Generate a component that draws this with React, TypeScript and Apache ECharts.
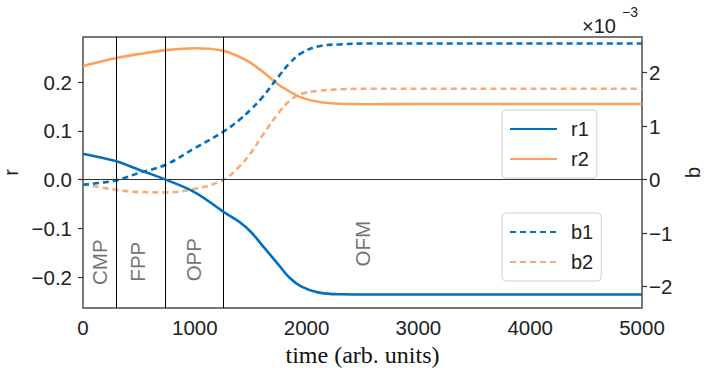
import React, { useEffect, useRef } from 'react';
import * as echarts from 'echarts';

// time samples (arb. units)
const times = [0, 150, 300, 500, 740, 1000, 1250, 1400, 1500, 1600, 1750, 1850, 1950, 2100, 2300, 2600, 3000, 4000, 5000];
// r values (left axis)
const r1 = [0.0534, 0.046, 0.0377, 0.0205, 0, -0.026, -0.065, -0.087, -0.107, -0.134, -0.175, -0.202, -0.219, -0.2315, -0.2355, -0.236, -0.236, -0.236, -0.236];
const r2 = [0.233, 0.242, 0.25, 0.258, 0.266, 0.27, 0.265, 0.252, 0.24, 0.223, 0.195, 0.181, 0.169, 0.16, 0.156, 0.155, 0.1553, 0.1553, 0.1553];
// b values (right axis), in units of 1e-3
const b1 = [-0.093, -0.06, -0.01, 0.125, 0.28, 0.59, 0.89, 1.12, 1.31, 1.53, 1.93, 2.18, 2.36, 2.49, 2.53, 2.545, 2.545, 2.545, 2.545];
const b2 = [-0.08, -0.14, -0.19, -0.23, -0.237, -0.17, -0.01, 0.25, 0.5, 0.81, 1.25, 1.48, 1.6, 1.66, 1.69, 1.7, 1.7, 1.7, 1.7];

// phase boundaries and labels
const phaseBoundaries = [300, 740, 1250];
const phaseNames = ['CMP', 'FPP', 'OPP', 'OFM'];
const phaseLabelT = [152, 484, 985, 2499];
const phaseLabelR = [-0.1695, -0.1685, -0.1644, -0.1315];

// ticks
const xTicks = [0, 1000, 2000, 3000, 4000, 5000];
const rTicks = [-0.2, -0.1, 0, 0.1, 0.2];
const bTicks = [-2, -1, 0, 1, 2];

const BLUE = '#0070C0';
const ORANGE = '#FFA05A';
const ORANGE_LIGHT = '#F9AC78';
const SANS = 'Liberation Sans';

const zip = (xs: number[], ys: number[]) => xs.map((x, i) => [x, ys[i]]);
const minus = (s: string) => s.replace('-', '\u2212');

export default function App() {
  const ref = useRef<HTMLDivElement>(null);
  useEffect(() => {
    if (!ref.current) return;
    const chart = echarts.init(ref.current, undefined, { renderer: 'svg' });
    const legendCommon = {
      orient: 'vertical' as const,
      left: 502,
      padding: [9, 8, 9, 7],
      itemWidth: 47,
      itemHeight: 14,
      itemGap: 10,
      borderColor: '#d0d0d0',
      borderWidth: 1,
      borderRadius: 4,
      backgroundColor: 'rgba(255,255,255,0.85)',
      itemStyle: { opacity: 0 },
      textStyle: { fontSize: 20, fontFamily: SANS, color: '#222', padding: [0, 0, 0, 9] },
    };
    const smooth = 0.4;
    chart.setOption({
      animation: false,
      grid: { left: 83, right: 64, top: 37, bottom: 60, show: true, borderColor: '#4d4d4d', borderWidth: 1.5, backgroundColor: 'transparent', containLabel: false, outerBoundsMode: 'none' },
      legend: [
        { ...legendCommon, top: 110, data: ['r1', 'r2'] },
        { ...legendCommon, top: 213, data: ['b1', 'b2'] },
      ],
      xAxis: {
        type: 'value', min: 0, max: 5000, interval: 1000,
        axisLine: { show: false }, axisTick: { show: false }, splitLine: { show: false },
        axisLabel: { fontSize: 20.5, fontFamily: SANS, color: '#222', margin: 9, customValues: xTicks, formatter: (v: number) => String(v) },
        name: 'time (arb. units)', nameLocation: 'middle', nameGap: 29,
        nameTextStyle: { fontSize: 24, fontFamily: 'Liberation Serif', fontWeight: 'normal', color: '#111' },
      },
      yAxis: [
        {
          type: 'value', min: -0.2636, max: 0.293, position: 'left',
          axisLine: { show: false }, splitLine: { show: false },
          axisTick: { show: true, length: 5, lineStyle: { color: '#333', width: 1.2 }, customValues: rTicks },
          axisLabel: { fontSize: 20.5, fontFamily: SANS, color: '#222', margin: 11, customValues: rTicks, formatter: (v: number) => minus(v.toFixed(1)) },
          name: 'r', nameLocation: 'middle', nameRotate: 90, nameGap: 58,
          nameTextStyle: { fontSize: 20, fontFamily: SANS, color: '#222' },
        },
        {
          type: 'value', min: -2.398, max: 2.667, position: 'right',
          axisLine: { show: false }, splitLine: { show: false },
          axisTick: { show: true, length: 5, lineStyle: { color: '#333', width: 1.2 }, customValues: bTicks },
          axisLabel: { fontSize: 20.5, fontFamily: SANS, color: '#222', margin: 7, customValues: bTicks, formatter: (v: number) => minus(String(Math.round(v))) },
          name: 'b', nameLocation: 'middle', nameRotate: 90, nameGap: 36,
          nameTextStyle: { fontSize: 20, fontFamily: SANS, color: '#222' },
        },
      ],
      series: [
        {
          name: 'r1', type: 'line', yAxisIndex: 0, data: zip(times, r1), symbol: 'none', smooth,
          lineStyle: { color: BLUE, width: 2.6 }, itemStyle: { color: BLUE }, z: 5,
          markLine: {
            silent: true, symbol: 'none', label: { show: false }, animation: false,
            data: [
              ...phaseBoundaries.map((t) => ({ xAxis: t, lineStyle: { color: '#000', width: 1, type: 'solid' } })),
              { yAxis: 0, lineStyle: { color: '#333', width: 1, type: 'solid' } },
            ],
          },
        },
        {
          name: 'r2', type: 'line', yAxisIndex: 0, data: zip(times, r2), symbol: 'none', smooth,
          lineStyle: { color: ORANGE, width: 2.6 }, itemStyle: { color: ORANGE }, z: 4,
        },
        {
          name: 'b1', type: 'line', yAxisIndex: 1, data: zip(times, b1), symbol: 'none', smooth,
          lineStyle: { color: BLUE, width: 2.6, type: [6, 4] }, itemStyle: { color: BLUE }, z: 4,
        },
        {
          name: 'b2', type: 'line', yAxisIndex: 1, data: zip(times, b2), symbol: 'none', smooth,
          lineStyle: { color: ORANGE_LIGHT, width: 2.6, type: [6, 4] }, itemStyle: { color: ORANGE_LIGHT }, z: 3,
        },
        {
          name: 'phases', type: 'scatter', yAxisIndex: 0, symbolSize: 0, silent: true,
          data: phaseNames.map((n, i) => ({ value: [phaseLabelT[i], phaseLabelR[i]], name: n })),
          label: {
            show: true, position: 'inside', rotate: 90, formatter: (p: any) => p.name,
            fontSize: 20.5, fontFamily: SANS, color: '#4d4d4d',
          },
        },
      ],
      graphic: [
        { type: 'text', left: 582, top: 16, style: { text: '\u00d710', fontSize: 20, fontFamily: SANS, fill: '#222' } },
        { type: 'text', left: 622, top: 5, style: { text: '\u22123', fontSize: 14, fontFamily: SANS, fill: '#222' } },
      ],
    });
    return () => chart.dispose();
  }, []);
  return <div ref={ref} style={{ position: 'absolute', left: 0, top: 0, width: 706, height: 368 }} />;
}
